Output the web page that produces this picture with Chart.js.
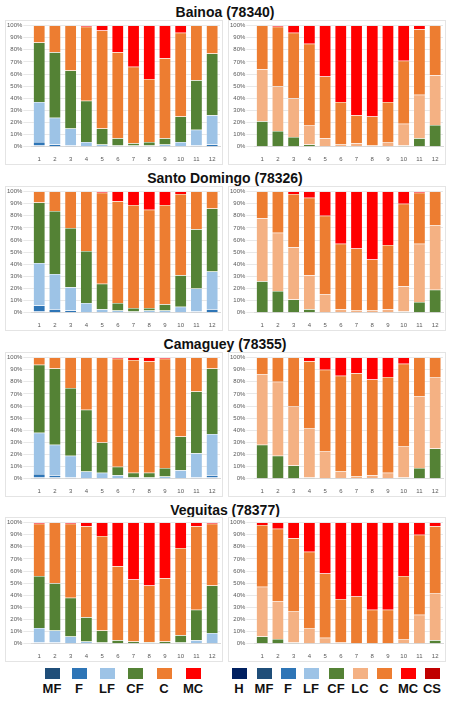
<!DOCTYPE html>
<html>
<head>
<meta charset="utf-8">
<script src="https://cdn.jsdelivr.net/npm/chart.js@4.4.0/dist/chart.umd.min.js"></script>
<style>
  body { margin: 0; background: #fff; font-family: "Liberation Sans", Arial, sans-serif; }
  .title { position: absolute; left: 0; width: 450px; text-align: center; font-weight: bold; font-size: 14px; color: #111; }
  .panel { position: absolute; width: 218px; height: 145px; border: 1px solid #e4e4e4; box-sizing: border-box; }
  .leg { position: absolute; text-align: center; font-weight: bold; font-size: 13px; color: #111; }
  .leg div { width: 15px; height: 11px; margin: 0 auto 2px auto; }
</style>
</head>
<body>
<script>
const months = ["1","2","3","4","5","6","7","8","9","10","11","12"];
const stations = ["Bainoa (78340)", "Santo Domingo (78326)", "Camaguey (78355)", "Veguitas (78377)"];

// left panels: MF, F, LF, CF, C, MC (percent per month)
const bainoaL = {
  MF: [1,0.5,0,0,0,0,0,0,0,0,0,0.5],
  F:  [3,1.5,1,0.5,0,0,0,0,0,0,1,1.5],
  LF: [33,22,14,3.5,2,1,1,1,2,4,13,24],
  CF: [49,54,48,34,13,6,2,3,5,21,41,51],
  C:  [14,22,37,61,81,71,63,52,66,69,45,23],
  MC: [0,0,0,1,4,22,34,44,27,6,0,0]
};
const santoL = {
  MF: [1,0.5,0,0,0,0,0,0,0,0,0,0.5],
  F:  [5,2.5,2,0,0,0,0,0,0,0,1,2.5],
  LF: [35,29,19,8,3,2,1,2,2,5,19,31],
  CF: [50,52,49,43,21,6,3,2,5,26,49,52],
  C:  [9,16,30,49,75,84,85,81,82,67,31,14],
  MC: [0,0,0,0,1,8,11,15,11,2,0,0]
};
const camagueyL = {
  MF: [1,1,0,0,0,0,0,0,0,0,0,1],
  F:  [3,2,1,0,0,0,0,0,0,0,1,2],
  LF: [34,25,18,6,5,3,1,1,2,7,20,34],
  CF: [56,63,56,51,25,7,4,4,7,28,51,54],
  C:  [6,9,25,43,70,89,93,92,90,65,28,9],
  MC: [0,0,0,0,0,1,2,3,1,0,0,0]
};
const veguitasL = {
  MF: [0.5,0.5,0,0,0,0,0,0,0,0,0,0],
  F:  [0.5,0.5,0.5,0,0,0,0,0,0,0,0,0],
  LF: [12,10,5.5,2,1,0.5,0.5,1,0.5,1,3,9],
  CF: [43,39,32,20,10,2.5,1.5,0.5,1.5,6,25,39],
  C:  [43,50,61,75,78,61,51,46.5,52,72,69,51],
  MC: [1,0,1,3,11,36,47,52,46,21,3,1]
};

// right panels: H, MF, F, LF, CF, LC, C, MC, CS
const bainoaR = {
  CF: [21,13,8,2,0,0,0,0,0,1,7,18],
  LC: [43,37,32,16,7,2,3,1,4,18,36,41],
  C:  [36,49,54,67,51,35,23,24,33,52,54,41],
  MC: [0,1,6,15,42,63,74,75,63,29,3,0]
};
const santoR = {
  CF: [26,18,11,3,0,0,0,0,0,1,9,19],
  LC: [52,48,43,28,15,3,2,2,3,21,48,53],
  C:  [22,34,44,64,65,54,51,42,53,68,42,28],
  MC: [0,0,2,5,20,43,47,56,44,10,1,0]
};
const camagueyR = {
  CF: [28,19,11,1,0,0,0,0,0,1,9,25],
  LC: [58,61,49,41,23,6,2,3,5,26,59,59],
  C:  [14,20,40,55,67,79,85,79,79,68,32,16],
  MC: [0,0,0,3,10,15,13,18,16,5,0,0]
};
const veguitasR = {
  CF: [6,4,1,0,0,0,0,0,0,0,0.5,3],
  LC: [41,31,26,13,5,1,0.5,0.5,0.5,4,23.5,39],
  C:  [51,60,60,63,53,36,38.5,27.5,27.5,52,66,55],
  MC: [2,5,13,24,42,63,61,72,72,44,10,3]
};

const leftKeys = ["MF","F","LF","CF","C","MC"];
const rightKeys = ["H","MF","F","LF","CF","LC","C","MC","CS"];
const colors = {
  H: "#002060", MF: "#1f4e79", F: "#2e75b6", LF: "#9dc3e6", CF: "#548235",
  LC: "#f4b183", C: "#ed7d31", MC: "#ff0000", CS: "#c00000"
};

const titleTops = [4, 170, 336, 502];
const panelTops = [20, 186, 352, 517];

function makeChart(x, y, keys, data) {
  const box = document.createElement("div");
  box.className = "panel";
  box.style.left = x + "px";
  box.style.top = y + "px";
  const cv = document.createElement("canvas");
  box.appendChild(cv);
  document.body.appendChild(box);
  new Chart(cv, {
    type: "bar",
    data: {
      labels: months,
      datasets: keys.map(k => ({
        label: k,
        data: data[k] || months.map(() => 0),
        backgroundColor: colors[k],
        borderColor: "rgba(255,255,255,0.35)",
        borderWidth: 0.5,
        barPercentage: 0.75,
        categoryPercentage: 1
      }))
    },
    options: {
      responsive: true,
      maintainAspectRatio: false,
      animation: false,
      layout: { padding: { left: 0, right: 2, top: 4, bottom: 0 } },
      plugins: { legend: { display: false }, tooltip: { enabled: false } },
      scales: {
        x: {
          stacked: true,
          grid: { display: false },
          border: { color: "#d9d9d9" },
          ticks: { color: "#595959", font: { size: 6 }, padding: 1 }
        },
        y: {
          stacked: true,
          min: 0, max: 100,
          grid: { color: "#e8e8e8" },
          border: { display: false },
          ticks: { stepSize: 10, color: "#595959", font: { size: 6 }, padding: 1, callback: v => v + "%" }
        }
      }
    }
  });
}

const leftSets = [bainoaL, santoL, camagueyL, veguitasL];
const rightSets = [bainoaR, santoR, camagueyR, veguitasR];

stations.forEach((name, i) => {
  const t = document.createElement("div");
  t.className = "title";
  t.style.top = titleTops[i] + "px";
  t.textContent = name;
  document.body.appendChild(t);
  makeChart(5, panelTops[i], leftKeys, leftSets[i]);
  makeChart(228, panelTops[i], rightKeys, rightSets[i]);
});

function legend(keys, xs) {
  keys.forEach((k, i) => {
    const d = document.createElement("div");
    d.className = "leg";
    d.style.left = (xs[i] - 15) + "px";
    d.style.width = "30px";
    d.style.top = "668px";
    d.innerHTML = '<div style="background:' + colors[k] + '"></div>' + k;
    document.body.appendChild(d);
  });
}
legend(leftKeys, [52, 79, 107, 135, 164, 193]);
legend(rightKeys, [239, 264, 288, 311, 336, 360, 384, 408, 432]);
</script>
</body>
</html>
